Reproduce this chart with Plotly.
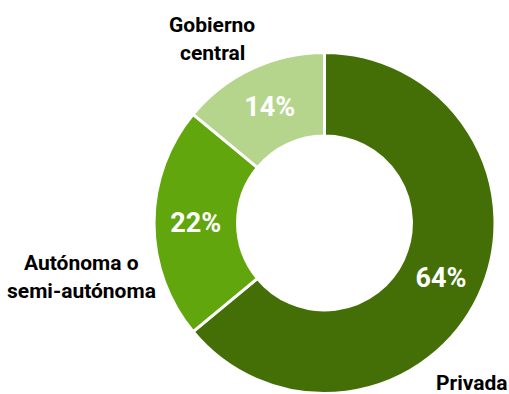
import plotly.graph_objects as go

# Distribución por tipo de institución
categorias = ["Privada", "Autónoma o semi-autónoma", "Gobierno central"]
porcentajes = [64, 22, 14]
colores = ["#446f07", "#62a60d", "#b5d58d"]

W, H = 509, 394
FONT = "Roboto, Arial, sans-serif"

fig = go.Figure(
    go.Pie(
        labels=categorias,
        values=porcentajes,
        text=[f"{v}%" for v in porcentajes],
        textinfo="text",
        textposition="inside",
        insidetextorientation="horizontal",
        hole=0.51,
        sort=False,
        direction="clockwise",
        rotation=0,
        marker=dict(colors=colores, line=dict(color="white", width=3)),
        textfont=dict(family=FONT, size=27, color="white", weight="bold"),
        domain=dict(x=[154 / W, 495 / W], y=[1 - 393.5 / H, 1 - 52.5 / H]),
        showlegend=False,
        hoverinfo="label+percent",
    )
)


def etiqueta(texto, px, py, anchor="center"):
    fig.add_annotation(
        text=texto,
        x=px / W,
        y=1 - py / H,
        xref="paper",
        yref="paper",
        xanchor=anchor,
        yanchor="middle",
        showarrow=False,
        borderpad=0,
        font=dict(family=FONT, size=21, color="black", weight="bold"),
    )


# Nombres de categoría fuera del anillo
etiqueta("Gobierno", 212, 25)
etiqueta("central", 212, 53)
etiqueta("Autónoma o", 81, 263)
etiqueta("semi-autónoma", 81, 291)
etiqueta("Privada", 509, 383, anchor="right")

fig.update_layout(
    width=W,
    height=H,
    margin=dict(l=0, r=0, t=0, b=0),
    paper_bgcolor="white",
    plot_bgcolor="white",
)

fig.write_html("out.html")
